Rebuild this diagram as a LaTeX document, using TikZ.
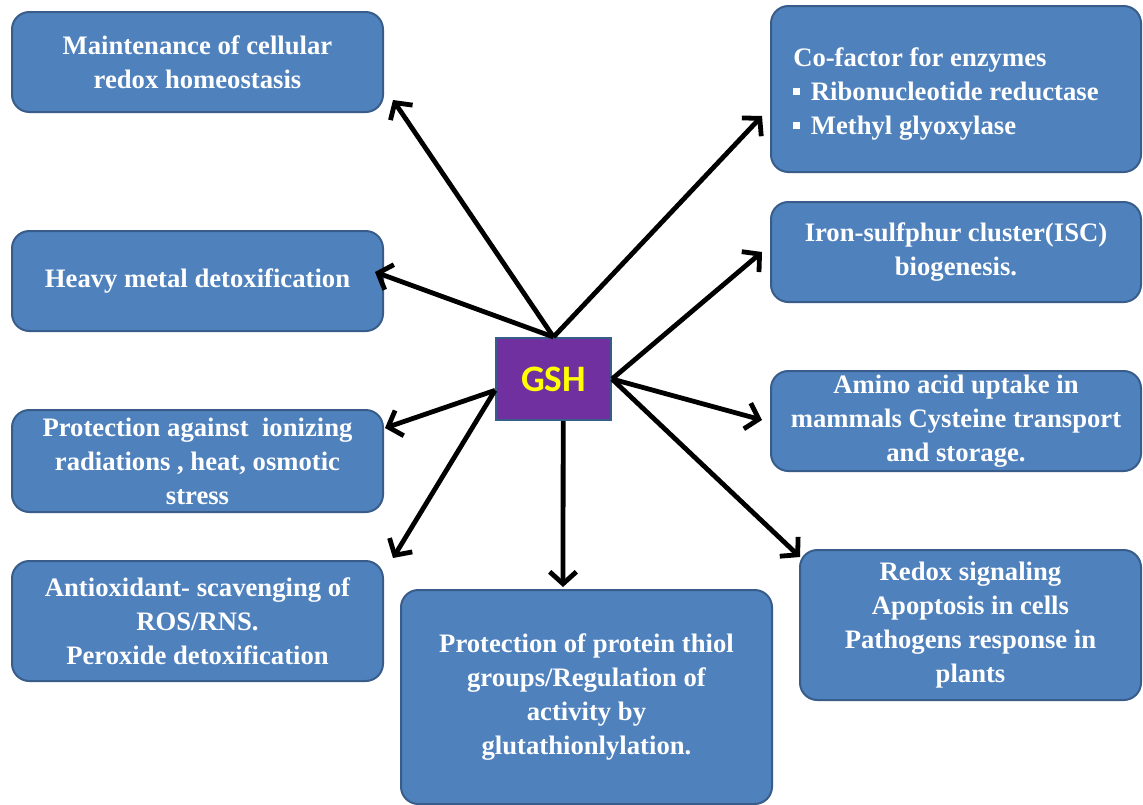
\documentclass[tikz,border=0pt]{standalone}
\usepackage{fontspec}
\setmainfont{Liberation Serif}
\newfontfamily\gshfont{Carlito}
\usetikzlibrary{arrows.meta}
\definecolor{boxfill}{HTML}{4F81BD}
\definecolor{boxline}{HTML}{385D8A}
\definecolor{gshfill}{HTML}{7030A0}
\definecolor{gshtext}{HTML}{FFFF00}
\newcommand\sqbul{\raisebox{0.22em}{\rule{5.25pt}{5.25pt}}\hspace{8pt}}
\begin{document}
\begin{tikzpicture}[x=0.75pt,y=-0.75pt,
  infobox/.style={draw=boxline,line width=1.5pt,fill=boxfill,rounded corners=13pt,
    text=white,font=\fontsize{20}{25.5}\selectfont\bfseries,align=center,inner sep=0pt,
    minimum width=278.25pt,minimum height=75pt},
  infotext/.style={text=white,font=\fontsize{20}{25.5}\selectfont\bfseries,align=left,inner sep=0pt},
  gshbox/.style={draw=boxline,line width=1.5pt,fill=gshfill,text=gshtext,
    font=\gshfont\bfseries\fontsize{28}{32}\selectfont,minimum width=86.25pt,minimum height=61.5pt,inner sep=0pt},
  link/.style={line width=3.6pt,-{Straight Barb[length=9pt,width=20pt]}}]
\fill[white] (0,0) rectangle (1143,804);
\useasboundingbox (0,0) rectangle (1143,804);

% left column
\node[infobox] (maint) at (197.5,62) {Maintenance of cellular\\redox homeostasis};
\node[infobox] (heavy) at (197.5,281) {Heavy metal detoxification};
\node[infobox,minimum height=76.5pt] (ion) at (197.5,461) {Protection against\ \ ionizing\\radiations , heat, osmotic\\stress};
\node[infobox,minimum height=90pt] (antiox) at (197.5,621) {Antioxidant- scavenging of\\ROS/RNS.\\Peroxide detoxification};

% right column
\node[infobox,minimum width=277.5pt,minimum height=124.5pt] (cof) at (956,89) {};
\node[infotext,anchor=west] (coftext) at (793,94) {Co-factor for enzymes\\\sqbul Ribonucleotide reductase\\\sqbul Methyl glyoxylase};
\node[infobox,minimum width=277.5pt] (iron) at (956,252) {Iron-sulfphur cluster(ISC)\\biogenesis.};
\node[infobox,minimum width=277.5pt] (amino) at (956,421) {Amino acid uptake in\\mammals Cysteine transport\\and storage.};
\node[infobox,minimum width=255.75pt,minimum height=112.5pt] (redox) at (970.5,625) {Redox signaling\\Apoptosis in cells\\Pathogens response in\\plants};

% bottom
\node[infobox,minimum height=160.5pt] (thiol) at (586.5,697) {Protection of protein thiol\\groups/Regulation of\\activity by\\glutathionlylation.};

% centre
\node[gshbox] (gsh) at (553.5,379) {GSH};

% arrow ends
\coordinate (e1) at (393,100);
\coordinate (e2) at (375,272);
\coordinate (e3) at (762,116);
\coordinate (e4) at (762,252);
\coordinate (e5) at (762,420);
\coordinate (e6) at (800,557);
\coordinate (e7) at (385,428);
\coordinate (e8) at (393,558);
\coordinate (e9) at (563,587);

\draw[link] (gsh.north) -- (e1);
\draw[link] (gsh.north) -- (e2);
\draw[link] (gsh.north) -- (e3);
\draw[link] (gsh.east) -- (e4);
\draw[link] (gsh.east) -- (e5);
\draw[link] (gsh.east) -- (e6);
\draw[link] (gsh.191) -- (e7);
\draw[link] (gsh.191) -- (e8);
\draw[link] (gsh.-77) -- (e9);
\end{tikzpicture}
\end{document}
